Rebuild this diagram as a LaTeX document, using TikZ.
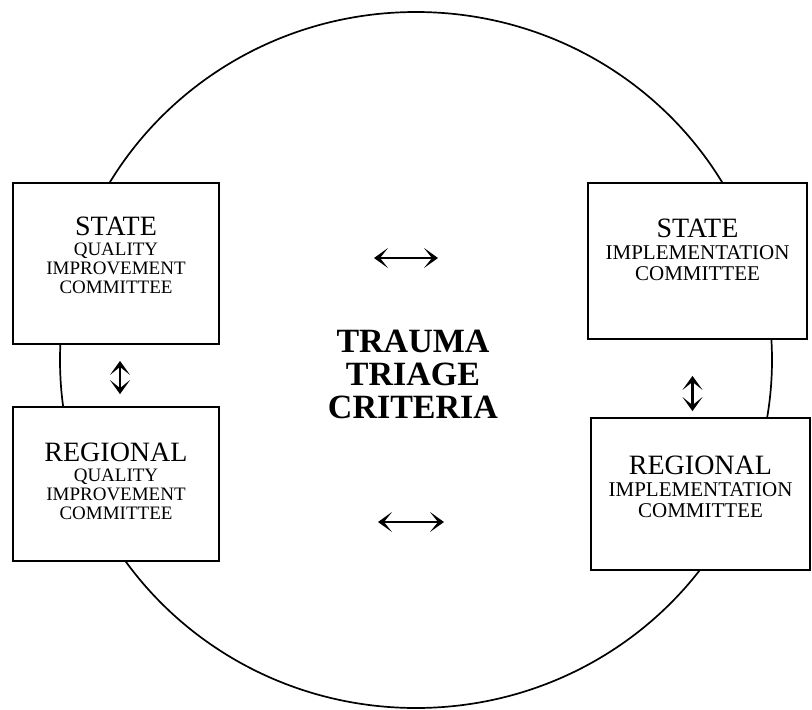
\documentclass[tikz,border=0pt]{standalone}
\usepackage{fontspec}
\setmainfont{Liberation Serif}
\usetikzlibrary{arrows.meta}

\tikzset{
    committee/.style={draw, line width=1.8pt, fill=white, rectangle, inner sep=0pt},
    boxtext/.style={align=center, inner sep=0pt, font=\fontsize{19}{19}\selectfont},
    title/.style={align=center, inner sep=0pt, font=\bfseries\fontsize{34}{33}\selectfont},
    dblarrow/.style={line width=2.4pt, {Stealth[length=14pt,width=20pt,inset=8pt]}-{Stealth[length=14pt,width=20pt,inset=8pt]}}
}
\newcommand{\hd}[1]{{\fontsize{28}{19}\selectfont #1}}

\begin{document}
\begin{tikzpicture}[x=1pt, y=-1pt]

% Frame
\useasboundingbox (0, 0) rectangle (812, 710);

% Outer circle
\def\cx{416}
\def\cy{360}
\draw[line width=1.7pt] (\cx, \cy) ellipse [x radius=356, y radius=348];

% Committee boxes
\node[committee, minimum width=206pt, minimum height=161pt] (sqi) at (116, 263.5) {};
\node[committee, minimum width=206pt, minimum height=154pt] (rqi) at (116, 484) {};
\node[committee, minimum width=219pt, minimum height=156pt] (sic) at (697.5, 261) {};
\node[committee, minimum width=219pt, minimum height=152pt] (ric) at (700.5, 494) {};

% Box texts
\node[boxtext] (sqi-t) at ([yshift=8pt]sqi.center) {\hd{STATE}\\[1pt] QUALITY\\ IMPROVEMENT\\ COMMITTEE};
\node[boxtext] (rqi-t) at ([yshift=3pt]rqi.center) {\hd{REGIONAL}\\[1pt] QUALITY\\ IMPROVEMENT\\ COMMITTEE};
\node[boxtext, font=\fontsize{21}{21}\selectfont] (sic-t) at ([yshift=11pt]sic.center) {\hd{STATE}\\[1pt] IMPLEMENTATION\\ COMMITTEE};
\node[boxtext, font=\fontsize{21}{21}\selectfont] (ric-t) at ([yshift=7pt]ric.center) {\hd{REGIONAL}\\[1pt] IMPLEMENTATION\\ COMMITTEE};

% Centre title
\node[title] (ttc) at (413, 374) {TRAUMA\\ TRIAGE\\ CRITERIA};

% Arrows between boxes
\draw[dblarrow, shorten <=16pt, shorten >=12pt] ([xshift=4pt]sqi.south) -- ([xshift=4pt]rqi.north);
\draw[dblarrow, shorten <=36pt, shorten >=6pt] ([xshift=-5pt]sic.south) -- ([xshift=-8pt]ric.north);

% Arrows across the circle
\draw[dblarrow] (374, 258) -- (438, 258);
\draw[dblarrow] (378, 522) -- (444, 522);

\end{tikzpicture}
\end{document}
